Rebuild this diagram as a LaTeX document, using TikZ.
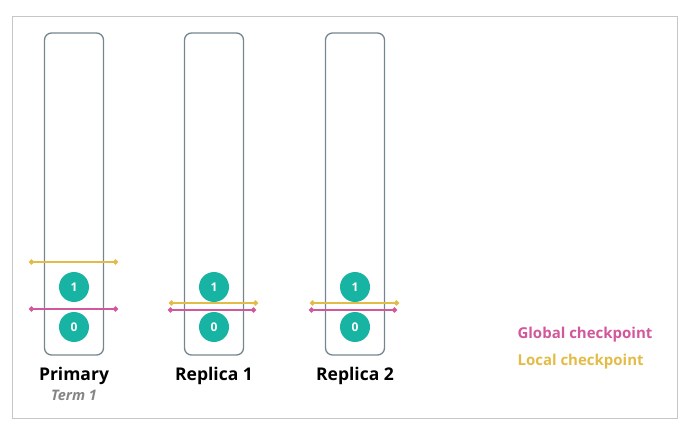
\documentclass[tikz,border=0pt]{standalone}
\usepackage{fontspec}
\setmainfont{Open Sans}
\usepackage{tikz}
\usetikzlibrary{arrows.meta}
\usetikzlibrary{positioning}
\definecolor{colframe}{HTML}{74878F}
\definecolor{entryfill}{HTML}{17B3A3}
\definecolor{globalcp}{HTML}{D2579B}
\definecolor{localcp}{HTML}{E3BC48}
\definecolor{termgray}{HTML}{858585}

\begin{document}
\begin{tikzpicture}[x=1pt, y=-1pt,
    column/.style={draw=colframe, rounded corners=7pt, line width=1.3pt, minimum width=59pt, minimum height=322pt, inner sep=0pt},
    entry/.style={circle, fill=entryfill, text=white, font=\bfseries\fontsize{12}{12}\selectfont, minimum size=30pt, inner sep=0pt},
    globalline/.style={draw=globalcp, line width=1.8pt, {Circle[length=5pt]}-{Circle[length=5pt]}},
    localline/.style={draw=localcp, line width=1.8pt, {Circle[length=5pt]}-{Circle[length=5pt]}},
    colname/.style={font=\bfseries\fontsize{17.5}{20}\selectfont},
    legend/.style={font=\bfseries\fontsize{15}{18}\selectfont, anchor=west}
]
        \useasboundingbox (0,0) rectangle (688,430);
        \draw[gray!45, line width=1pt] (12,17) rectangle (677,418);

        \begin{scope}
            % columns
            \node[column] (prim) at (74,194) {};
            \node[column] (rep1) at (214,194) {};
            \node[column] (rep2) at (355,194) {};

            % entries
            \node[entry] (prim1) at (74,287) {1};
            \node[entry] (prim0) at (74,327) {0};
            \node[entry] (rep11) at (214,287) {1};
            \node[entry] (rep10) at (214,327) {0};
            \node[entry] (rep21) at (355,287) {1};
            \node[entry] (rep20) at (355,327) {0};

            % checkpoints
            \coordinate (primLa) at (29,262);  \coordinate (primLb) at (118,262);
            \coordinate (primGa) at (29,309);  \coordinate (primGb) at (118,309);
            \coordinate (rep1La) at (169,303); \coordinate (rep1Lb) at (258,303);
            \coordinate (rep1Ga) at (168,310); \coordinate (rep1Gb) at (256,310);
            \coordinate (rep2La) at (310,303); \coordinate (rep2Lb) at (399,303);
            \coordinate (rep2Ga) at (309,310); \coordinate (rep2Gb) at (397,310);

            \draw[localline] (primLa) -- (primLb);
            \draw[globalline] (primGa) -- (primGb);
            \draw[localline] (rep1La) -- (rep1Lb);
            \draw[globalline] (rep1Ga) -- (rep1Gb);
            \draw[localline] (rep2La) -- (rep2Lb);
            \draw[globalline] (rep2Ga) -- (rep2Gb);

            % names
            \node[colname, below=8pt of prim] (primname) {Primary};
            \node[font=\itshape\bfseries\fontsize{14.5}{16}\selectfont, text=termgray, below=-2pt of primname] (primterm) {Term 1};
            \node[colname, below=8pt of rep1] (rep1name) {Replica 1};
            \node[colname, below=8pt of rep2] (rep2name) {Replica 2};

            % legend
            \node[legend, text=globalcp] (globleg) at (514,335) {Global checkpoint};
            \node[legend, text=localcp] (locleg) at (514,362) {Local checkpoint};
        \end{scope}
\end{tikzpicture}
\end{document}
